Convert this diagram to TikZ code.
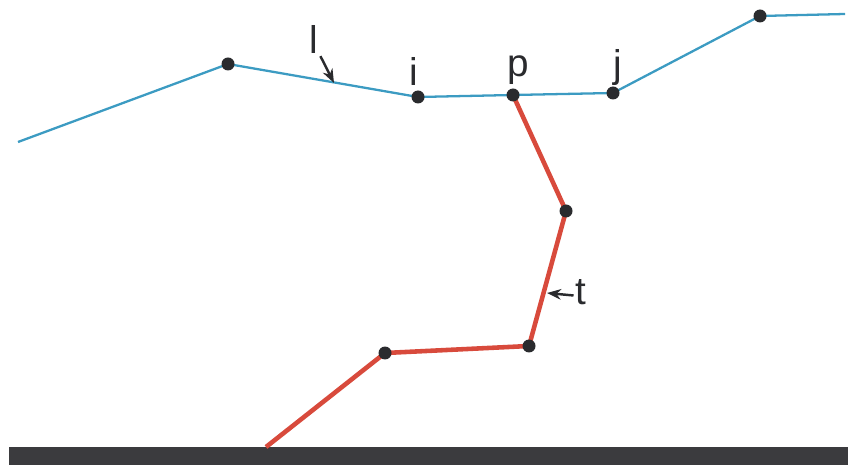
\documentclass[tikz,border=0pt]{standalone}
\usepackage{fontspec}
\setmainfont{Liberation Sans}
\usepackage{xcolor}
\usetikzlibrary{arrows.meta,positioning}
\definecolor{river}{HTML}{3C9BC2}
\definecolor{trib}{HTML}{D84A3C}
\definecolor{dot}{HTML}{2A2B2E}
\definecolor{ground}{HTML}{3B3B3E}

\tikzset{
  mainline/.style={river,line width=1.3pt,line join=round},
  sideline/.style={trib,line width=2.6pt,line join=round},
  vertex/.style={circle,fill=dot,inner sep=0pt,minimum size=0.26cm},
  lab/.style={font=\fontsize{22}{25}\selectfont,text=dot,inner sep=1pt},
  pointer/.style={-{Stealth[length=8pt,width=6pt]},line width=1.4pt,dot}
}

\begin{document}
\begin{tikzpicture}[x=0.02cm,y=-0.02cm]
\useasboundingbox (0,0) rectangle (857,465);
% ground bar
\fill[ground] (9,447) rectangle (848,465);
% vertices
\coordinate (a0) at (18,142);
\coordinate (a1) at (228,64);
\coordinate (i) at (418,97);
\coordinate (p) at (513,95);
\coordinate (j) at (613,93);
\coordinate (a5) at (760,16);
\coordinate (a6) at (845,14);
\coordinate (b1) at (566,211);
\coordinate (b2) at (529,346);
\coordinate (b3) at (385,353);
\coordinate (b4) at (266,447);
% lines
\draw[sideline] (p) -- (b1) -- (b2) -- (b3) -- (b4);
\draw[mainline] (a0) -- (a1) -- (i) -- (p) -- (j) -- (a5) -- (a6);
\foreach \v in {a1,i,p,j,a5,b1,b2,b3}
  \node[vertex] at (\v) {};
% labels
\node[lab] (lab-l) at (314,40) {l};
\node[lab] (lab-i) at (414,72) {i};
\node[lab] (lab-p) at (518,70) {p};
\node[lab] (lab-j) at (618,68) {j};
\node[lab] (lab-t) at (581,292) {t};
\coordinate (l-tip) at (334,83);
\coordinate (t-tip) at (547,293);
\draw[pointer] (lab-l.south east) -- (l-tip);
\draw[pointer] (lab-t.205) -- (t-tip);
\end{tikzpicture}
\end{document}
